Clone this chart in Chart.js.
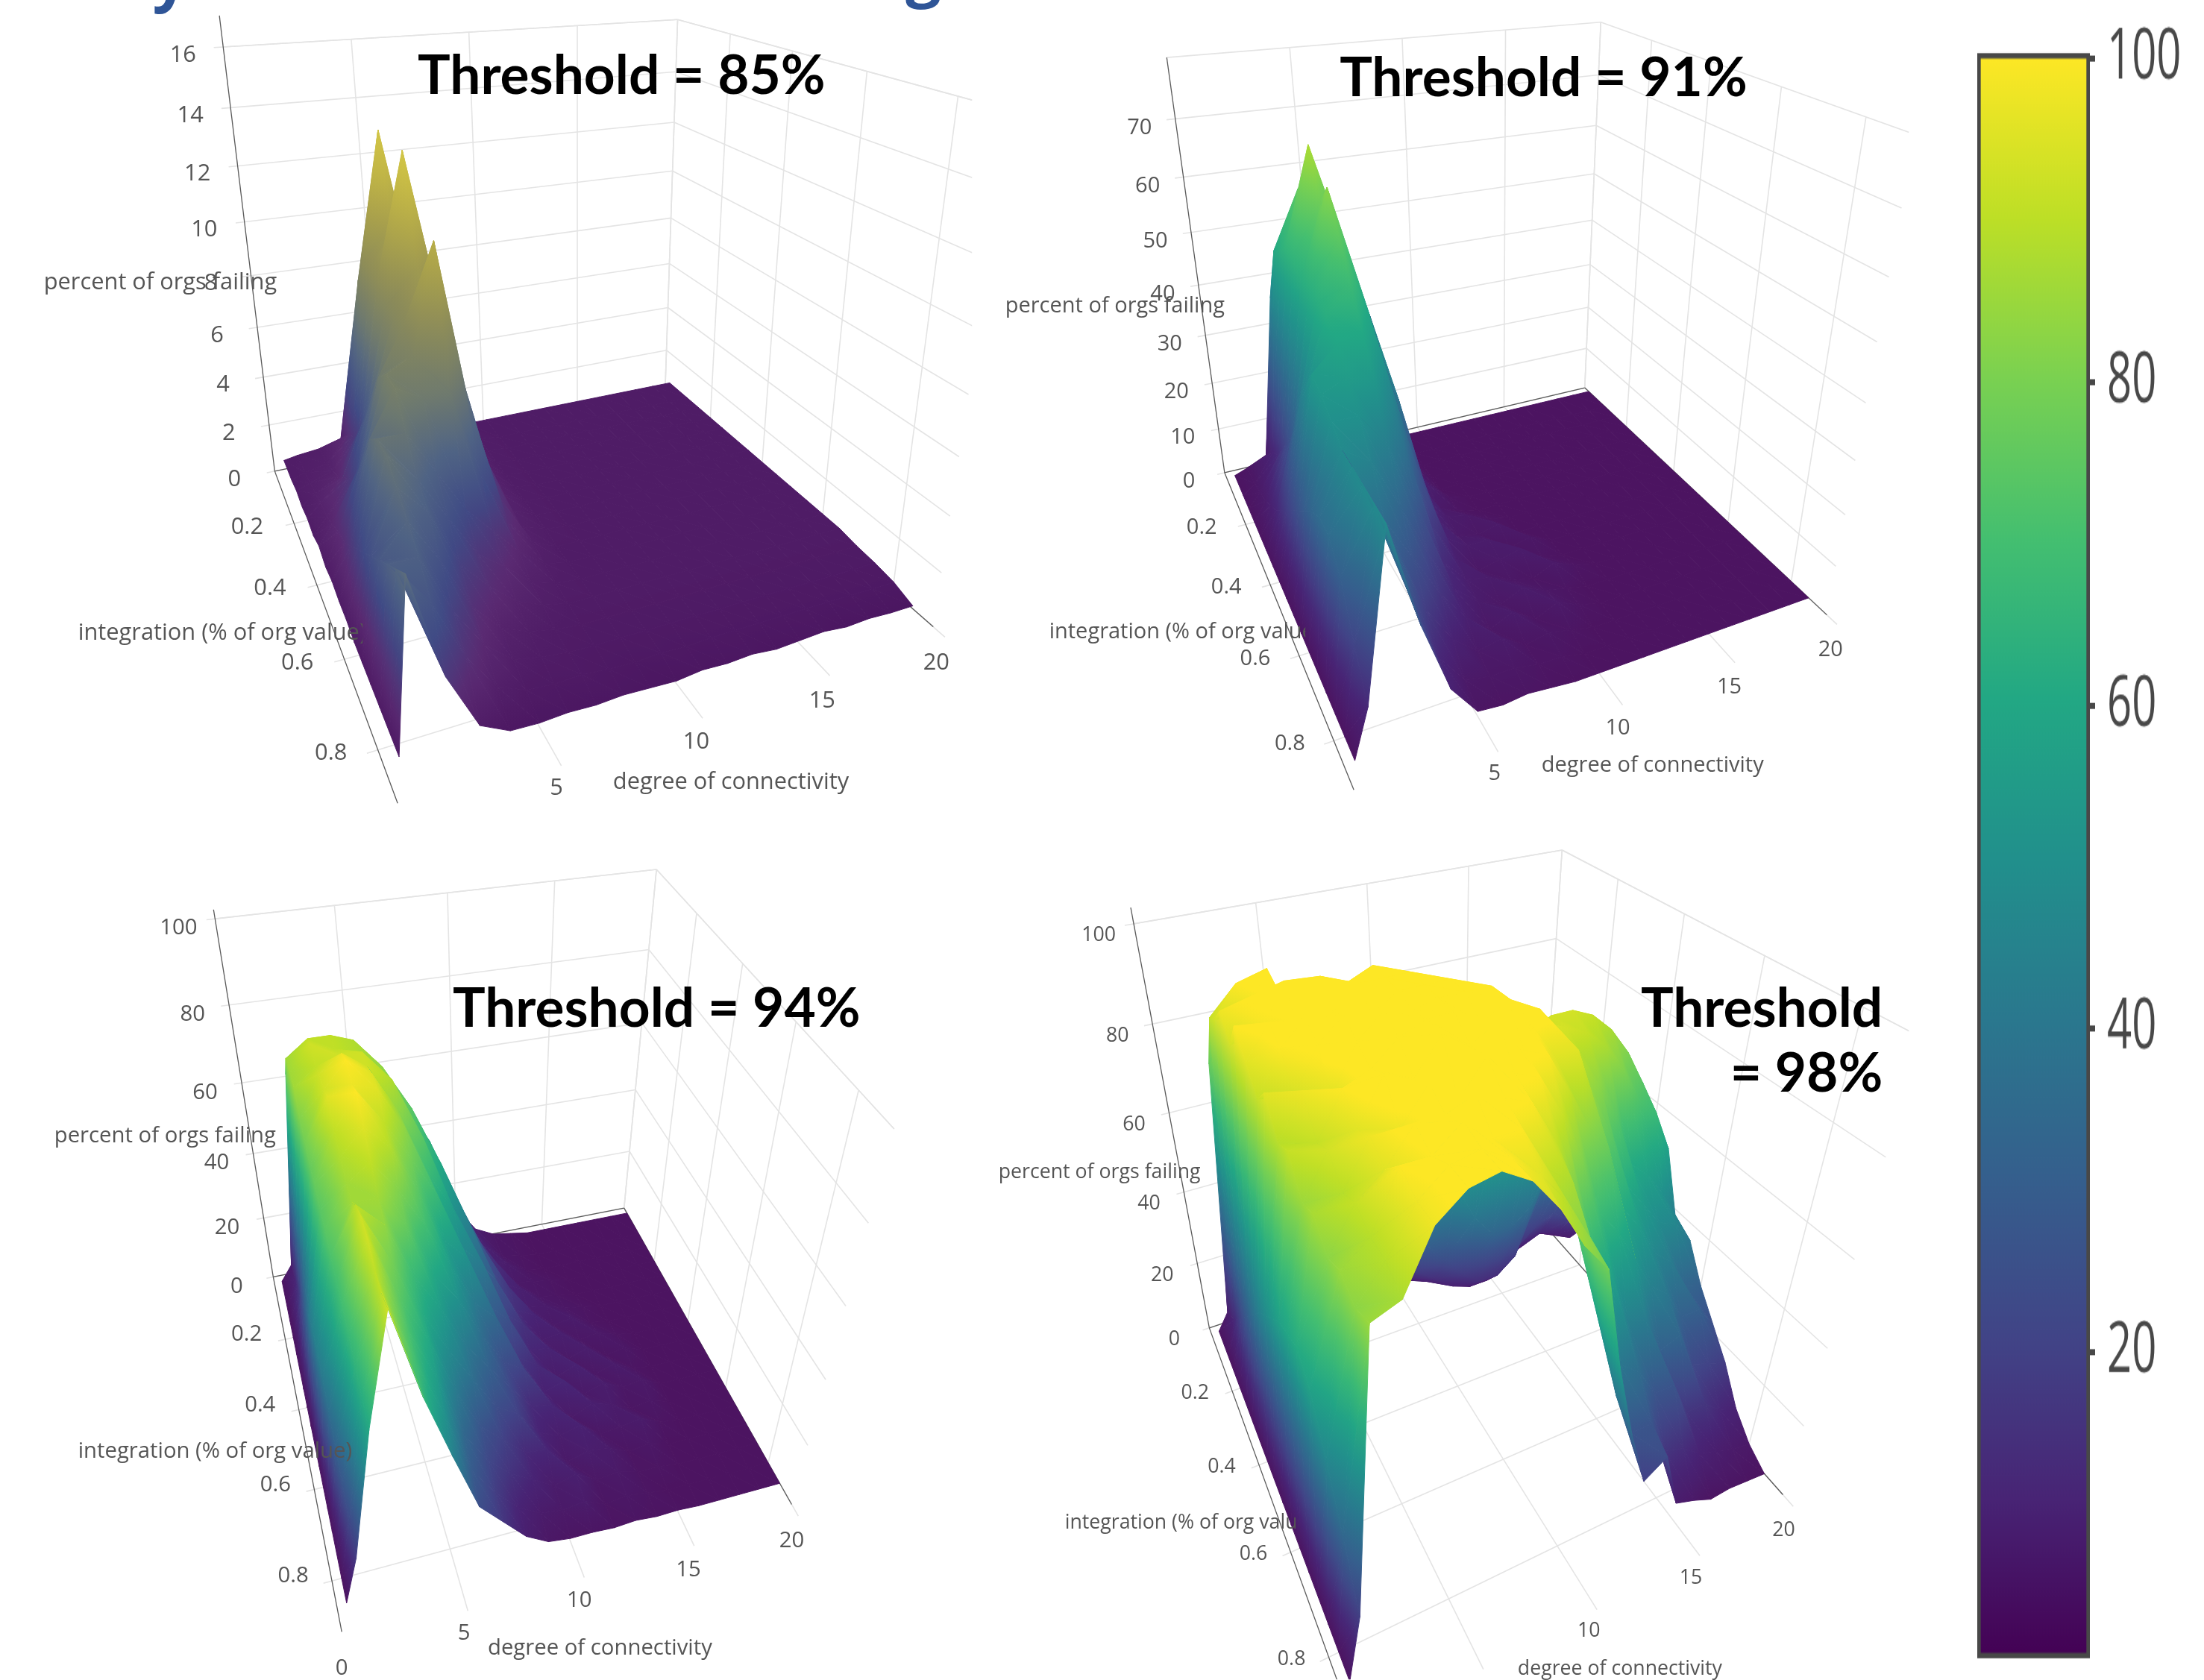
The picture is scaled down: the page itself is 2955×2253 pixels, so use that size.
<!DOCTYPE html>
<html><head><meta charset="utf-8">
<style>html,body{margin:0;padding:0;background:#fff;width:2955px;height:2253px;overflow:hidden}
canvas{position:absolute;display:block}</style>
<script src="https://cdn.jsdelivr.net/npm/chart.js@4/dist/chart.umd.min.js"></script>
</head><body>
<script>
// ---------- shared axes ----------
const degreeValues = [0.4,1,2,3,4,5,6,7,8,9,10,11,12,13,14,15,16,17,18,19,20];
const integrationValues = [0.02,0.10,0.15,0.20,0.25,0.30,0.35,0.40,0.45,0.50,0.55,0.60,0.65,0.70,0.75,0.80,0.85];
const degreeTicks = [5,10,15,20];
const integrationTicks = [0.2,0.4,0.6,0.8];
const colorbarTicks = [20,40,60,80,100];
// ---------- percent of orgs failing, rows = integration, columns = degree (a short row ends on its flat value) ----------
const failing85 = [
[.6,.7,.8,1,4,7,5,2,1,.6],
[.6,.8,1,2,8,10,6,3,1,.7,.6],
[.7,.9,1.2,2.5,9,13.5,7,3,1.2,.7,.6],
[.6,1,1.5,3,9,10.5,7.5,3,1.2,.7,.6],
[.7,1.2,2,4,9,11,8,3,1.2,.7,.6],
[.6,1.2,2.5,5,8.5,13.5,8,3.5,1.2,.7,.6],
[.8,1.5,3,6,8.5,10,7.5,3.5,1.2,.7,.6],
[.6,1.8,4,7,8.5,10,7,3,1.1,.7,.6],
[.7,2,5,7.5,8,11.5,6,2.5,1,.7,.6],
[.6,2.5,6,7.5,7,7,4,2,1,.6],
[.6,3,6.5,6.5,5,3.5,2.5,1.5,.8,.6],
[.5,3.5,6.5,5.5,4,2.5,1.8,1,.7,.6],
[.5,4,6,5,3,2,1.2,.8,.6],
[.5,4.5,5.5,4,2.2,1.2,.8,.6,.5],
[.5,5,5,3,1.6,.8,.6,.5,.45],
[.5,5.5,4.2,2.2,.9,.5,.4,.45,.35,.3,.35,.3,.35],
[.5,6,2.6,.7,.2,.15,.2,.15,.2,.15,.1,.2,.15,.2,.1,.15,.2,.1,.15,.1,.1]];
const failing91 = [
[0,1,3,36,34,29,14,5,1,0],
[0,2,8,48,46,36,21,8,2,0],
[0,3,10,50,60,50,24,11,3,0],
[0,4,14,52,62,52,29,12,4,0],
[0,6,18,52,70,52,30,13,4,0],
[0,8,22,50,62,52,35,11,5,1,0],
[0,11,28,50,66,48,32,10,3,1,0],
[0,14,34,50,60,46,30,9,4,3,1,0],
[0,17,38,50,54,42,24,8,3,2,3,0],
[0,20,43,47,48,36,20,7,4,4,1,2,0],
[0,23,42,44,42,30,14,6,2,3,4,1,0],
[0,26,40,40,34,22,10,5,4,2,1,3,1,0],
[0,28,38,35,26,16,8,4,2,4,2,1,0],
[0,28,38,28,20,12,6,2,4,1,3,1,0],
[0,24,38,26,14,7,3,4,1,2,1,0],
[0,16,38,22,9,3,2,2,1,1,0],
[0,9,38,20,7,1,.5,1,.5,0]];
const failing94 = [
[0,5,62,66,70,66,60,46,37,22,13,5,2,1,0],
[0,8,72,76,76,74,62,56,38,30,14,7,2,1,0],
[0,11,72,78,76,74,70,56,48,30,18,7,4,1,0],
[0,14,72,76,78,78,70,62,44,34,16,11,3,2,1,0],
[0,18,68,78,82,78,74,60,50,32,22,9,6,2,1,0],
[0,22,66,78,84,80,70,62,46,36,20,13,5,4,2,1,0],
[0,26,64,80,82,80,70,56,46,30,22,11,8,3,4,1,0],
[0,30,64,76,84,76,66,56,40,34,17,12,5,6,2,3,1,0],
[0,34,62,74,80,74,62,48,42,26,20,9,8,3,5,1,2,0],
[0,36,62,72,76,68,58,46,34,28,14,10,4,7,2,4,1,0],
[0,36,60,72,72,64,50,42,30,20,16,7,9,3,5,2,3,0],
[0,34,58,76,70,56,46,34,26,18,10,9,3,6,4,1,2,0],
[0,30,58,78,66,52,40,30,20,16,8,5,7,2,3,4,1,0],
[0,26,56,78,62,50,34,22,16,10,9,3,5,4,1,2,0],
[0,22,54,76,60,46,28,18,12,8,4,6,2,3,1,1,0],
[0,18,52,76,58,42,24,15,8,4,3,4,1,2,1,0],
[0,14,50,78,55,37,20,13,6,2,1,1,.5,1,.3,.5,0]];
const failing98 = [
[0,5,70,74,72,60,30,10,4,3,2,3,2,3,2,3,2,3,2,2,1],
[0,10,84,82,86,70,40,14,6,4,5,3,5,4,4,3,4,5,6,4,2],
[0,15,86,92,88,60,36,22,14,12,10,7,5,5,4,5,6,8,10,8,5],
[0,20,90,88,96,76,52,34,24,20,16,12,8,6,6,8,14,18,20,16,12],
[0,25,86,94,92,82,66,50,40,34,28,22,16,12,12,16,30,40,38,36,30],
[0,30,92,90,98,96,92,80,72,62,54,46,36,30,30,34,44,58,56,54,50],
[0,35,88,94,92,100,98,100,96,94,92,90,80,70,70,72,74,76,72,66,56],
[0,40,84,92,96,96,100,100,100,97,95,93,88,84,86,86,84,80,74,66,54],
[0,44,88,86,94,98,97,100,100,100,96,95,90,88,86,84,80,74,66,62,52],
[0,48,82,90,88,96,100,99,100,100,100,96,94,86,82,76,68,56,52,46,38],
[0,52,84,84,92,94,98,100,100,97,100,94,88,88,76,68,56,50,44,42,36],
[0,54,78,86,88,96,94,100,97,100,94,92,84,76,70,56,50,42,38,30,28],
[0,56,80,82,90,90,96,92,98,94,92,84,74,62,56,48,40,36,28,28,22],
[0,52,76,84,88,94,94,96,94,92,84,74,60,52,40,38,28,30,20,18,16],
[0,42,78,82,92,92,96,92,92,84,80,60,48,36,32,24,24,14,14,10,8],
[0,30,76,82,90,94,95,92,88,82,74,54,36,24,24,14,12,8,6,4,3],
[0,17,78,80,90,94,95,92,86,78,72,50,32,17,21,5,3,.5,1,.5,0]];
// ---------- colour scales ----------
const viridis = ['#440154','#482475','#414487','#355f8d','#2a788e','#21908c','#22a884','#44bf70','#7ad151','#bddf26','#fde725'];
const panelScale85 = ['#4a1560','#5a2a72','#3f4a85','#4f6384','#6f7a6e','#8a8a5a','#a8a04c','#c4b845','#d8cb48'];
const panelScale = ['#4c1461','#482475','#414487','#355f8d','#2a788e','#21908c','#22a884','#44bf70','#7ad151','#bddf26','#fde725'];
// ---------- panels: box corners seen in the picture (camera), text placement ----------
const panels = [
 {rows:failing85,title:['Threshold = 85%'],scale:panelScale85,cmax:14,
  rect:[0,0,1304,1105],zmax:16,zTop:17,zTicks:[0,2,4,6,8,10,12,14,16],
  A:[368,632],B:[533,1078],C:[1252,841],D:[892,525],
  tops:[[0,16,300,66],[1,16,909,20],[2,10,1310,446]],
  titleX:560,titleY:[102],align:'left',
  font:30.8,zOff:[-54,11],iOff:[-63,5],dOff:[4,49],dTicks:degreeTicks,
  zTitle:[58,379],iTitle:[104,850],iClip:486,dTitle:[822,1050]},
 {rows:failing91,title:['Threshold = 91%'],scale:panelScale,cmax:80,
  rect:[1304,0,2560,1105],zmax:80,zTop:80,zTicks:[0,10,20,30,40,50,60,70],
  A:[1641.5,634],B:[1815,1060],C:[2450,825],D:[2125,520],
  tops:[[0,70,1575,161],[1,60,2141,166],[2,70,2550,278]],
  titleX:1796,titleY:[105],align:'left',
  font:29,zOff:[-48,12],iOff:[-59,4],dOff:[5,47],dTicks:degreeTicks,
  zTitle:[1347,411],iTitle:[1406,848],iClip:1750,dTitle:[2067,1027]},
 {rows:failing94,title:['Threshold = 94%'],scale:panelScale,cmax:84,
  rect:[0,1105,1240,2253],zmax:100,zTop:102,zTicks:[0,20,40,60,80,100],
  A:[366,1712.5],B:[458,2189],C:[1062,2018],D:[837,1620],
  tops:[[0,100,287,1237],[1,100,881,1163],[2,100,1200,1510]],
  titleX:607,titleY:[1353],align:'left',
  font:29.3,zOff:[-49,13],iOff:[-52,-6],dOff:[0,49],dTicks:[0].concat(degreeTicks),
  zTitle:[72,1523],iTitle:[104,1947],iClip:481,dTitle:[654,2211]},
 {rows:failing98,title:['Threshold','= 98%'],scale:panelScale,cmax:92,
  rect:[1304,1105,2560,2253],zmax:100,zTop:103,zTicks:[0,20,40,60,80,100],
  A:[1621,1781],B:[1811,2305],C:[2391,2005],D:[2062,1633],
  tops:[[0,100,1518,1243],[1,100,2112,1124],[2,80,2500,1572]],
  titleX:2525,titleY:[1353,1440],align:'right',
  font:26.7,zOff:[-47,16],iOff:[-50,3],dOff:[1,48],dTicks:degreeTicks,
  zTitle:[1338,1572],iTitle:[1427,2043],iClip:1737,dTitle:[2035,2239]}
];
const D_MAX = 20, I_MAX = 0.9;
const TICK_COLOR = '#555', GRID_COLOR = '#e4e4e4', AXIS_COLOR = '#5a5a5a';

function hexRgb(h){return [1,3,5].map(k=>parseInt(h.substr(k,2),16));}
function colorAt(stops,t){
  t=Math.max(0,Math.min(1,t))*(stops.length-1);
  const k=Math.min(stops.length-2,Math.floor(t)),f=t-k;
  const a=hexRgb(stops[k]),b=hexRgb(stops[k+1]);
  return 'rgb('+a.map((v,n)=>Math.round(v+(b[n]-v)*f)).join(',')+')';
}
function solve3(M,r){
  const m=M.map((row,k)=>row.concat(r[k]));
  for(let c=0;c<3;c++){
    let p=c;for(let k=c+1;k<3;k++)if(Math.abs(m[k][c])>Math.abs(m[p][c]))p=k;
    [m[c],m[p]]=[m[p],m[c]];
    for(let k=0;k<3;k++)if(k!==c){const f=m[k][c]/m[c][c];for(let j=c;j<4;j++)m[k][j]-=f*m[c][j];}
  }
  return [m[0][3]/m[0][0],m[1][3]/m[1][1],m[2][3]/m[2][2]];
}
function makeCamera(p){
  const [x0,y0]=p.A,[x1,y1]=p.D,[x2,y2]=p.C,[x3,y3]=p.B;
  const dx1=x1-x2,dx2=x3-x2,sx=x0-x1+x2-x3,dy1=y1-y2,dy2=y3-y2,sy=y0-y1+y2-y3;
  const den=dx1*dy2-dx2*dy1;
  const g=(sx*dy2-dx2*sy)/den,h=(dx1*sy-sx*dy1)/den;
  const H=[[x1-x0+g*x1,x3-x0+h*x3,x0],[y1-y0+g*y1,y3-y0+h*y3,y0],[g,h,1]];
  const uv=[[0,0],[1,0],[1,1]];
  const N=[[0,0,0],[0,0,0],[0,0,0]],R=[0,0,0];
  const add=(c,b)=>{for(let i=0;i<3;i++){R[i]+=c[i]*b;for(let j=0;j<3;j++)N[i][j]+=c[i]*c[j];}};
  for(const [k,z,tx,ty] of p.tops){
    const [u,v]=uv[k];
    const hx=H[0][0]*u+H[0][1]*v+H[0][2],hy=H[1][0]*u+H[1][1]*v+H[1][2],hw=H[2][0]*u+H[2][1]*v+1;
    add([z,0,-tx*z],tx*hw-hx);add([0,z,-ty*z],ty*hw-hy);
  }
  const V=solve3(N,R);
  const G=solve3(H,V);
  const cam={H,V,uc:G[0]/G[2],vc:G[1]/G[2]};
  cam.project=(d,i,z)=>{
    const u=d/D_MAX,v=i/I_MAX;
    const w=H[2][0]*u+H[2][1]*v+1+z*V[2];
    return {x:(H[0][0]*u+H[0][1]*v+H[0][2]+z*V[0])/w,y:(H[1][0]*u+H[1][1]*v+H[1][2]+z*V[1])/w};
  };
  return cam;
}
function triangleGradient(chart,tri,p){
  if(tri.paint)return tri.paint;
  const sx=chart.scales.x,sy=chart.scales.y;
  const px=tri.pts.map(q=>({x:sx.getPixelForValue(q.x),y:sy.getPixelForValue(q.y),v:q.v})).sort((a,b)=>a.v-b.v);
  if(!px.every(q=>isFinite(q.x)&&isFinite(q.y)))return 'rgba(0,0,0,0)';
  const [a,b,c]=px;
  const T=v=>v/p.cmax;
  if(c.v-a.v<1e-6*p.cmax+1e-9){tri.paint=colorAt(p.scale,T(a.v));return tri.paint;}
  const s=(b.v-a.v)/(c.v-a.v);
  const qx=a.x+s*(c.x-a.x),qy=a.y+s*(c.y-a.y);
  let ex=b.x-qx,ey=b.y-qy,nx,ny;
  const len=Math.hypot(ex,ey);
  if(len<1e-3){nx=c.x-a.x;ny=c.y-a.y;const l=Math.hypot(nx,ny)||1;nx/=l;ny/=l;}
  else{nx=-ey/len;ny=ex/len;}
  const dot=(c.x-a.x)*nx+(c.y-a.y)*ny;
  const gr=chart.ctx.createLinearGradient(a.x,a.y,a.x+nx*dot,a.y+ny*dot);
  const n=6;
  for(let k=0;k<=n;k++)gr.addColorStop(k/n,colorAt(p.scale,T(a.v+(c.v-a.v)*k/n)));
  tri.paint=gr;
  return gr;
}
const lineSet=(pts,color,width)=>({type:'scatter',showLine:true,data:pts,borderColor:color,borderWidth:width,pointRadius:0,fill:false});

function buildDatasets(p,cam){
  const rows=p.rows.map(r=>degreeValues.map((_,k)=>k<r.length?r[k]:r[r.length-1]));
  const P=(c,r)=>{const q=cam.project(degreeValues[c],integrationValues[r],rows[r][c]);q.v=rows[r][c];q.u=degreeValues[c]/D_MAX;q.w=integrationValues[r]/I_MAX;return q;};
  const tris=[];
  for(let r=0;r<rows.length-1;r++)for(let c=0;c<degreeValues.length-1;c++){
    const a=P(c,r),b=P(c+1,r),e=P(c+1,r+1),f=P(c,r+1);
    tris.push({pts:[a,b,e]},{pts:[a,e,f]});
  }
  for(const t of tris){
    const mu=(t.pts[0].u+t.pts[1].u+t.pts[2].u)/3,mw=(t.pts[0].w+t.pts[1].w+t.pts[2].w)/3;
    t.dist=(mu-cam.uc)**2+(mw-cam.vc)**2;
  }
  tris.sort((a,b)=>a.dist-b.dist); // nearest first: Chart.js paints dataset 0 last
  const sets=tris.map(t=>({
    type:'scatter',showLine:true,fill:'shape',pointRadius:0,
    data:[t.pts[0],t.pts[1],t.pts[2],t.pts[0]].map(q=>({x:q.x,y:q.y})),
    backgroundColor:ctx=>triangleGradient(ctx.chart,t,p),
    borderColor:ctx=>triangleGradient(ctx.chart,t,p),
    borderWidth:1
  }));
  const L=(a,b)=>[cam.project(...a),cam.project(...b)];
  const axes=[
    L([0,0,0],[0,0,p.zTop]),L([0,0,0],[0,I_MAX,0]),L([0,0,0],[D_MAX,0,0]),L([D_MAX,0,0],[D_MAX,I_MAX,0])];
  for(const a of axes)sets.push(lineSet(a,AXIS_COLOR,1.3));
  const grid=[];
  for(const z of p.zTicks){grid.push(L([-.35,0,z],[D_MAX,0,z]),L([D_MAX,0,z],[D_MAX,I_MAX,z]));}
  grid.push(L([0,0,p.zmax],[D_MAX,0,p.zmax]),L([D_MAX,0,p.zmax],[D_MAX,I_MAX,p.zmax]));
  for(const d of degreeTicks.concat([])){
    grid.push(L([d,0,0],[d,I_MAX*1.03,0]));
    grid.push(L([d,0,0],[d,0,p.zmax]));
  }
  for(const i of integrationTicks){
    grid.push(L([-.35,i,0],[D_MAX,i,0]));
    grid.push(L([D_MAX,i,0],[D_MAX,i,p.zmax]));
  }
  grid.push(L([D_MAX,0,0],[D_MAX,0,p.zmax]));
  for(const g of grid)sets.push(lineSet(g,GRID_COLOR,1.6));
  return sets;
}
const panelText={
  id:'panelText',
  beforeDatasetsDraw(chart,_,o){
    const {p,cam}=o,ctx=chart.ctx,sx=chart.scales.x,sy=chart.scales.y;
    const X=v=>sx.getPixelForValue(v),Y=v=>sy.getPixelForValue(v);
    ctx.save();ctx.fillStyle=TICK_COLOR;ctx.textAlign='center';ctx.textBaseline='middle';
    ctx.font=p.font+'px "Open Sans"';
    const put=(t,q,off)=>ctx.fillText(t,X(q.x+off[0]),Y(q.y+off[1]));
    for(const z of p.zTicks)put(String(z),cam.project(0,0,z),p.zOff);
    for(const i of integrationTicks)put(String(i),cam.project(0,i,0),p.iOff);
    for(const d of p.dTicks)put(String(d),cam.project(d,I_MAX,0),p.dOff);
    ctx.textAlign='left';
    ctx.fillText('degree of connectivity',X(p.dTitle[0]),Y(p.dTitle[1]));
    ctx.restore();
  },
  afterDatasetsDraw(chart,_,o){
    const {p}=o,ctx=chart.ctx,sx=chart.scales.x,sy=chart.scales.y;
    const X=v=>sx.getPixelForValue(v),Y=v=>sy.getPixelForValue(v);
    ctx.save();ctx.fillStyle=TICK_COLOR;ctx.textAlign='left';ctx.textBaseline='middle';
    ctx.font=p.font+'px "Open Sans"';
    ctx.fillText('percent of orgs failing',X(p.zTitle[0]),Y(p.zTitle[1]));
    ctx.save();ctx.beginPath();ctx.rect(X(p.iTitle[0]-5),Y(p.iTitle[1]-40),X(p.iClip)-X(p.iTitle[0]-5),80);ctx.clip();
    ctx.fillText('integration (% of org value)',X(p.iTitle[0]),Y(p.iTitle[1]));
    ctx.restore();
    ctx.fillStyle='#000';ctx.textAlign=p.align;
    ctx.font='bold 73px Lato';
    p.title.forEach((t,k)=>ctx.fillText(t,X(p.titleX),Y(p.titleY[k])));
    if(o.heading){
      ctx.fillStyle='#2f5597';ctx.textAlign='left';ctx.textBaseline='alphabetic';ctx.font='bold 84px "Open Sans"';
      ctx.fillText('y',X(204),Y(-2));
      ctx.fillText('g',X(1215),Y(-8));
    }
    ctx.restore();
  }
};
panels.forEach((p,n)=>{
  const cv=document.createElement('canvas');
  const [x0,y0,x1,y1]=p.rect;
  cv.width=x1-x0;cv.height=y1-y0;
  cv.style.left=x0+'px';cv.style.top=y0+'px';cv.style.width=(x1-x0)+'px';cv.style.height=(y1-y0)+'px';
  document.body.appendChild(cv);
  const cam=makeCamera(p);
  const chart=new Chart(cv,{
    type:'scatter',
    data:{datasets:buildDatasets(p,cam)},
    plugins:[panelText],
    options:{
      responsive:false,animation:false,events:[],devicePixelRatio:1,
      layout:{padding:0},
      elements:{line:{tension:0,borderJoinStyle:'round'},point:{radius:0}},
      scales:{x:{type:'linear',min:x0,max:x1,display:false},y:{type:'linear',min:y0,max:y1,reverse:true,display:false}},
      plugins:{legend:{display:false},tooltip:{enabled:false},title:{display:false},
        panelText:{p,cam,heading:n===0}}
    }
  });
  chart.update();
});
// ---------- colour bar ----------
(function(){
  const H=1391,stretch=2253/H;
  const cv=document.createElement('canvas');cv.width=355;cv.height=H;
  cv.style.left='2600px';cv.style.top='0';cv.style.width='355px';cv.style.height=H+'px';
  cv.style.transformOrigin='0 0';cv.style.transform='scaleY('+stretch+')';
  document.body.appendChild(cv);
  const low=1.1,high=100.32;
  const chart=new Chart(cv,{
    type:'bar',
    data:{labels:['percent'],datasets:[{
      data:[[low,high]],barPercentage:1,categoryPercentage:1,
      borderColor:'#484848',borderWidth:5,borderSkipped:false,
      backgroundColor:ctx=>{
        const s=ctx.chart.scales.y;
        const y0=s.getPixelForValue(100),y1=s.getPixelForValue(low);
        if(!isFinite(y0)||!isFinite(y1))return '#440154';
        const g=ctx.chart.ctx.createLinearGradient(0,y0,0,y1);
        viridis.slice().reverse().forEach((c,k)=>g.addColorStop(k/(viridis.length-1),c));
        return g;
      }
    }]},
    options:{
      responsive:false,animation:false,events:[],devicePixelRatio:1,
      layout:{padding:{left:51,right:0,top:71/stretch,bottom:H-2224/stretch}},
      scales:{
        x:{display:false},
        y:{position:'right',min:low,max:high,
          afterFit:s=>{s.width=153;s.paddingTop=0;s.paddingBottom=0;},
          border:{display:false},
          grid:{drawOnChartArea:false,tickLength:7,tickWidth:5,tickColor:'#484848'},
          afterBuildTicks:s=>{s.ticks=colorbarTicks.map(v=>({value:v}));},
          ticks:{color:'#484848',padding:16,font:{family:'"Open Sans"',size:58},autoSkip:false}}
      },
      plugins:{legend:{display:false},tooltip:{enabled:false},title:{display:false}}
    }
  });
  chart.update();
})();
</script>
</body></html>
